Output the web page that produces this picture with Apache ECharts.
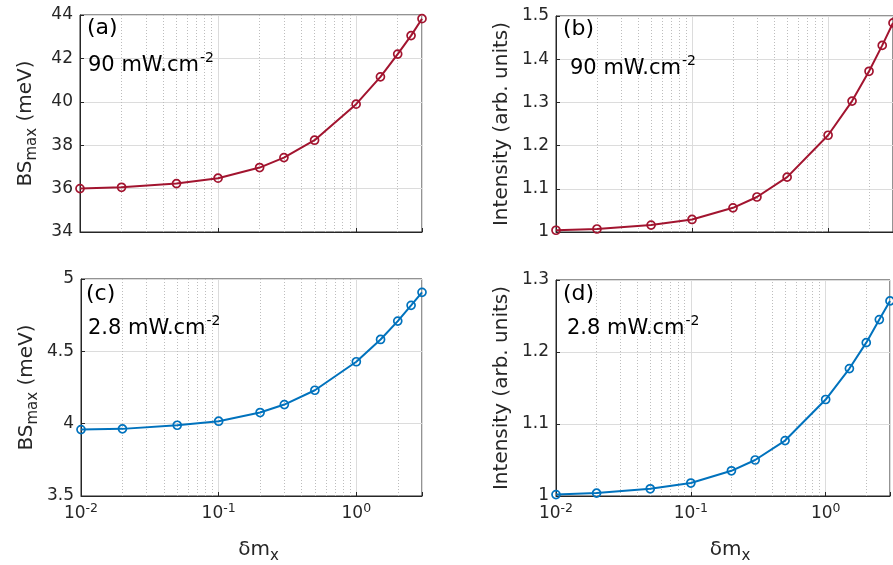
<!DOCTYPE html>
<html><head><meta charset="utf-8">
<script src="https://cdn.jsdelivr.net/npm/echarts@6/dist/echarts.min.js"></script>
<style>html,body{margin:0;padding:0;background:#fff;}#c{width:893px;height:565px;}</style>
</head><body><div id="c"></div>
<script>
// ---- data ----
const deltaMx = [0.01, 0.02, 0.05, 0.1, 0.2, 0.3, 0.5, 1, 1.5, 2, 2.5, 3];
const bsMax90 = [36.00, 36.06, 36.23, 36.48, 36.97, 37.43, 38.23, 39.89, 41.15, 42.20, 43.05, 43.83];
const intensity90 = [1.004, 1.007, 1.016, 1.029, 1.056, 1.081, 1.127, 1.224, 1.303, 1.372, 1.432, 1.484];
const bsMax28 = [3.959, 3.964, 3.989, 4.017, 4.077, 4.132, 4.231, 4.428, 4.582, 4.709, 4.818, 4.908];
const intensity28 = [1.002, 1.004, 1.010, 1.018, 1.035, 1.050, 1.077, 1.134, 1.177, 1.213, 1.245, 1.271];
const minorGridX = [0.02, 0.03, 0.04, 0.05, 0.06, 0.07, 0.08, 0.09, 0.2, 0.3, 0.4, 0.5, 0.6, 0.7, 0.8, 0.9, 2];
const xRange = [0.01, 3];
const yRanges = [[34, 44, 2], [1, 1.5, 0.1], [3.5, 5, 0.5], [1, 1.3, 0.1]];
const panelLetters = ['(a)', '(b)', '(c)', '(d)'];
const panelPowers = ['90 mW.cm', '90 mW.cm', '2.8 mW.cm', '2.8 mW.cm'];
const powerExp = '-2';
const yNames = ['{n|BS}{s|max}{n| (meV)}', '{n|Intensity (arb. units)}', '{n|BS}{s|max}{n| (meV)}', '{n|Intensity (arb. units)}'];
const xName = '{n|δm}{s|x}';

// ---- style ----
const FONT = 'DejaVu Sans';
const DARK = '#262626';
const RED = '#A2142F';
const BLUE = '#0072BD';
const grids = [
  {left: 80, top: 15, width: 342, height: 217},
  {left: 556, top: 16, width: 339, height: 216},
  {left: 81, top: 279, width: 341, height: 217},
  {left: 556, top: 280, width: 339, height: 217}
];
const seriesData = [bsMax90, intensity90, bsMax28, intensity28];
const colors = [RED, RED, BLUE, BLUE];

function decadeLabel(v) {
  const l = Math.log10(v);
  if (Math.abs(l - Math.round(l)) > 1e-6) return '';
  return '{b|10}{p|' + Math.round(l) + '}';
}

const option = {
  backgroundColor: '#fff',
  animation: false,
  grid: grids.map(g => Object.assign({show: true, borderColor: DARK, borderWidth: 1, backgroundColor: '#fff', containLabel: false}, g)),
  xAxis: grids.map((g, i) => ({
    type: 'log', logBase: 10, gridIndex: i, min: xRange[0], max: xRange[1],
    name: i >= 2 ? xName : '', nameLocation: 'middle', nameGap: 40,
    nameTextStyle: {padding: [0, 0, 0, 14], rich: {n: {fontSize: 20, fontFamily: FONT, color: DARK, lineHeight: 28}, s: {fontSize: 15, fontFamily: FONT, color: DARK, verticalAlign: 'bottom', lineHeight: 14}}},
    axisLine: {show: true, lineStyle: {color: DARK, width: 1}},
    axisTick: {show: true, inside: true, length: 4, lineStyle: {color: DARK}},
    axisLabel: {show: i >= 2, formatter: decadeLabel, margin: 6,
      rich: {b: {fontSize: 17, fontFamily: FONT, color: DARK, lineHeight: 24}, p: {fontSize: 12.5, fontFamily: FONT, color: DARK, verticalAlign: 'top', lineHeight: 12}}},
    splitLine: {show: true, lineStyle: {color: '#dcdcdc', width: 1}},
    minorTick: {show: false}
  })),
  yAxis: grids.map((g, i) => ({
    type: 'value', gridIndex: i, min: yRanges[i][0], max: yRanges[i][1], interval: yRanges[i][2],
    name: yNames[i], nameLocation: 'middle', nameRotate: 90, nameGap: 40,
    nameTextStyle: {rich: {n: {fontSize: 20, fontFamily: FONT, color: DARK, lineHeight: 28}, s: {fontSize: 15, fontFamily: FONT, color: DARK, verticalAlign: 'bottom', lineHeight: 15}}},
    axisLine: {show: true, lineStyle: {color: DARK, width: 1}},
    axisTick: {show: true, inside: true, length: 4, lineStyle: {color: DARK}},
    axisLabel: {color: DARK, fontSize: 17, fontFamily: FONT, margin: 7, formatter: v => String(+v.toFixed(2))},
    splitLine: {show: true, lineStyle: {color: '#dcdcdc', width: 1}}
  })),
  series: seriesData.map((d, i) => ({
    type: 'line', xAxisIndex: i, yAxisIndex: i,
    data: deltaMx.map((x, k) => [x, d[k]]),
    symbol: 'circle', symbolSize: 8,
    itemStyle: {color: 'rgba(0,0,0,0)', borderColor: colors[i], borderWidth: 1.7},
    lineStyle: {color: colors[i], width: 2},
    z: 5,
    markLine: {
      silent: true, symbol: ['none', 'none'], label: {show: false},
      lineStyle: {type: [1, 2], color: '#bdbdbd', width: 1},
      data: minorGridX.map(v => ({xAxis: v})),
      z: 1
    }
  })),
  graphic: []
};

const letterPos = [[87, 17], [563, 18], [86, 283], [563, 283]];
const powerPos = [[88, 51], [570, 54], [88, 314], [567, 314]];
letterPos.forEach((p, i) => {
  option.graphic.push({type: 'text', left: p[0], top: p[1], z: 100,
    style: {text: panelLetters[i], font: '22px "DejaVu Sans"', fill: '#000'}});
});
powerPos.forEach((p, i) => {
  option.graphic.push({type: 'text', left: p[0], top: p[1], z: 100,
    style: {text: '{b|' + panelPowers[i] + '}{p|' + powerExp + '}',
      rich: {b: {fontSize: 21, fontFamily: FONT, fill: '#000', lineHeight: 29}, p: {fontSize: 14, fontFamily: FONT, fill: '#000', verticalAlign: 'top', lineHeight: 14, padding: [0, 0, 0, 1]}}}});
});

const chart = echarts.init(document.getElementById('c'), null, {renderer: 'canvas'});
chart.setOption(option);
</script>
</body></html>
